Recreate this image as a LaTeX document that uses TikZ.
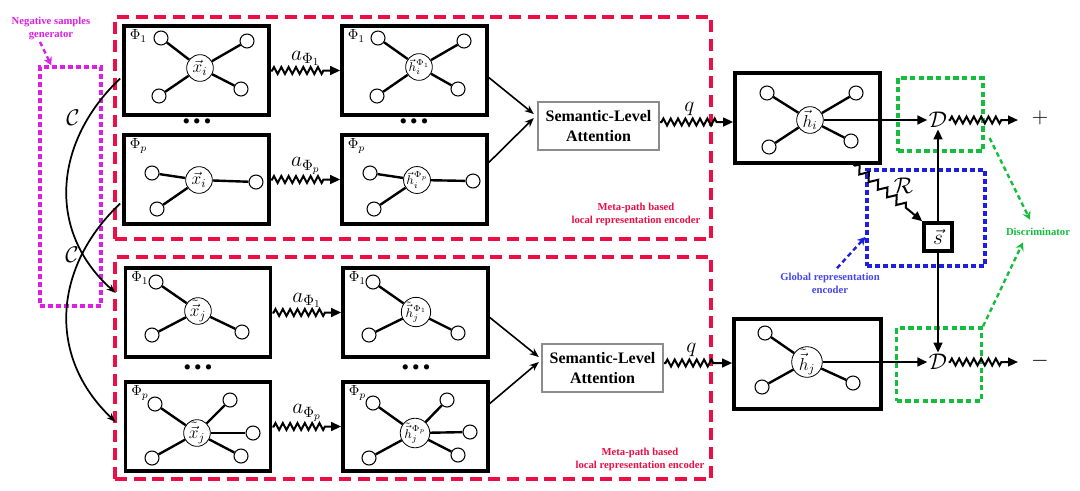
\RequirePackage{fix-cm}
\documentclass[tikz,border=0pt]{standalone}
\usepackage{amsmath}
\usepackage[no-math]{fontspec}
\newfontfamily\tnr{Liberation Serif}
\usetikzlibrary{arrows.meta,calc,decorations.pathmorphing}
\definecolor{cred}{RGB}{235,15,70}
\definecolor{cmag}{RGB}{220,30,230}
\definecolor{cgreen}{RGB}{20,190,60}
\definecolor{cblue}{RGB}{30,30,225}
\definecolor{lblue}{RGB}{70,70,235}
\tikzset{
 gbox/.style={draw, line width=2.7pt, inner sep=0pt, minimum width=108.75pt, minimum height=66.75pt},
 hub/.style={circle, draw, line width=0.6pt, fill=white, minimum size=20pt, inner sep=0pt, font=\fontsize{13}{13}\selectfont},
 hubs/.style={hub, font=\fontsize{9.5}{9.5}\selectfont},
 leaf/.style={circle, draw, line width=0.8pt, fill=white, minimum size=10.5pt, inner sep=0pt},
 edge/.style={line width=1.8pt},
 philab/.style={anchor=north west, inner sep=1pt, font=\fontsize{11}{11}\selectfont},
 zz/.style={line width=1.5pt, decorate, decoration={zigzag, segment length=5.5pt, amplitude=2.6pt, pre length=1pt, post length=12pt}, -{Triangle[length=7.5pt,width=6.5pt]}},
 zzr/.style={line width=1.5pt, decorate, decoration={zigzag, segment length=9pt, amplitude=3pt, pre length=1pt, post length=14pt}, -{Triangle[length=7.5pt,width=6.5pt]}},
 alab/.style={above=2pt, font=\fontsize{16}{16}\selectfont, inner sep=1pt},
 mlab/.style={font=\fontsize{17}{17}\selectfont, inner sep=1pt},
 sem/.style={draw=black!45, line width=1.8pt, minimum width=90.75pt, minimum height=36pt, align=center, inner sep=1pt, font=\tnr\bfseries\fontsize{12}{14.5}\selectfont},
 sarr/.style={line width=1.2pt, -{Stealth[length=7pt,width=5.5pt]}},
 arr/.style={line width=1.8pt, -{Triangle[length=7.5pt,width=6.5pt]}},
 carr/.style={line width=1.3pt, -{Stealth[length=7pt,width=5pt]}},
 redbox/.style={draw=cred, line width=2.6pt, dash pattern=on 9pt off 5pt, minimum width=447pt, minimum height=166.5pt},
 redlab/.style={text=cred, align=center, font=\tnr\bfseries\fontsize{8}{9.75}\selectfont},
 magbox/.style={draw=cmag, line width=2.6pt, dash pattern=on 3.5pt off 2.5pt, minimum width=45.75pt, minimum height=179.25pt},
 grbox/.style={draw=cgreen, line width=2.6pt, dash pattern=on 4pt off 2.5pt, minimum width=63.5pt, minimum height=54.75pt},
 blbox/.style={draw=cblue, line width=2.4pt, dash pattern=on 3.5pt off 2.5pt, minimum width=88.5pt, minimum height=72pt},
 dotsn/.style={inner sep=0pt, font=\tnr\bfseries\fontsize{24}{24}\selectfont},
 smalllab/.style={align=center, inner sep=1pt, font=\tnr\bfseries\fontsize{8}{9.75}\selectfont},
 ldash/.style={line width=1.8pt, dash pattern=on 3.5pt off 2.5pt, -{Stealth[length=6pt,width=6.5pt]}},
}
\begin{document}
\begin{tikzpicture}[x=0.75pt,y=-0.75pt]
\useasboundingbox (0,0) rectangle (1080,490);

% containers
\node[redbox] (R1) at (413,128) {};
\node[redbox] (R2) at (413,368) {};
\node[redlab] (R1lab) at (636,214.5) {Meta-path based\\local representation encoder};
\node[redlab] (R2lab) at (640,459) {Meta-path based\\local representation encoder};
\node[magbox] (M) at (70.5,186.5) {};
\node[smalllab, text=cmag] (neg) at (51,28) {Negative samples\\generator};
\draw[ldash, draw=cmag] ($(neg.south)+(-11,1)$) -- ($(M.north west)+(13,0)$);

% meta-path boxes
\node[gbox] (A1) at (196.5,70.5) {};
\node[gbox] (A2) at (196.5,179.5) {};
\node[gbox] (B1) at (414.5,70.5) {};
\node[gbox] (B2) at (414.5,179.5) {};
\node[gbox] (P1) at (198,312.5) {};
\node[gbox] (P2) at (198,426.5) {};
\node[gbox] (Q1) at (415.5,312.5) {};
\node[gbox] (Q2) at (415.5,426.5) {};
\foreach \b/\t in {A1/\Phi_1,A2/\Phi_p,B1/\Phi_1,B2/\Phi_p,P1/\Phi_1,P2/\Phi_p,Q1/\Phi_1,Q2/\Phi_p}
  \node[philab] (\b phi) at ($(\b.north west)+(6,4)$) {$\t$};

\node[dotsn] (dt1) at (197,121) {.\hspace{2pt}.\hspace{2pt}.};
\node[dotsn] (dt2) at (414,121) {.\hspace{2pt}.\hspace{2pt}.};
\node[dotsn] (dt3) at (198,367) {.\hspace{2pt}.\hspace{2pt}.};
\node[dotsn] (dt4) at (416,367) {.\hspace{2pt}.\hspace{2pt}.};

% graphs
\node[hub] (hA1) at (200,68) {$\vec{x}_i$};
\foreach \x/\y [count=\k] in {161/38,247/41,159/96,241/89}
  {\node[leaf] (hA1-\k) at (\x,\y) {}; \draw[edge] (hA1) -- (hA1-\k);}
\node[hub] (hA2) at (199,180) {$\vec{x}_i$};
\foreach \x/\y [count=\k] in {152/173,256/182,157/209}
  {\node[leaf] (hA2-\k) at (\x,\y) {}; \draw[edge] (hA2) -- (hA2-\k);}
\node[hubs] (hB1) at (419,67) {$\vec{h}_i^{\Phi_1}$};
\foreach \x/\y [count=\k] in {378/38,464/41,377/96,458/89}
  {\node[leaf] (hB1-\k) at (\x,\y) {}; \draw[edge] (hB1) -- (hB1-\k);}
\node[hubs] (hB2) at (417,180) {$\vec{h}_i^{\Phi_p}$};
\foreach \x/\y [count=\k] in {370/173,473/181,374/209}
  {\node[leaf] (hB2-\k) at (\x,\y) {}; \draw[edge] (hB2) -- (hB2-\k);}
\node[hub] (hP1) at (198,311) {$\tilde{\vec{x}}_j$};
\foreach \x/\y [count=\k] in {156/282,152/335,242/332}
  {\node[leaf] (hP1-\k) at (\x,\y) {}; \draw[edge] (hP1) -- (hP1-\k);}
\node[hub] (hP2) at (197,433) {$\tilde{\vec{x}}_j$};
\foreach \x/\y [count=\k] in {155/404,230/400,253/433,241/456,152/458}
  {\node[leaf] (hP2-\k) at (\x,\y) {}; \draw[edge] (hP2) -- (hP2-\k);}
\node[hubs] (hQ1) at (416,312) {$\tilde{\vec{h}}_j^{\Phi_1}$};
\foreach \x/\y [count=\k] in {373/282,369/335,458/333}
  {\node[leaf] (hQ1-\k) at (\x,\y) {}; \draw[edge] (hQ1) -- (hQ1-\k);}
\node[hubs] (hQ2) at (415,433) {$\tilde{\vec{h}}_j^{\Phi_p}$};
\foreach \x/\y [count=\k] in {373/403,447/400,470/432,458/455,369/458}
  {\node[leaf] (hQ2-\k) at (\x,\y) {}; \draw[edge] (hQ2) -- (hQ2-\k);}

% node-level zigzag arrows
\draw[zz] (A1.east) -- node[alab] (a1) {$a_{\Phi_1}$} (B1.west);
\draw[zz] (A2.east) -- node[alab] (a2) {$a_{\Phi_p}$} (B2.west);
\draw[zz] (P1.east) -- node[alab] (a3) {$a_{\Phi_1}$} (Q1.west);
\draw[zz] (P2.east) -- node[alab] (a4) {$a_{\Phi_p}$} (Q2.west);

% semantic attention
\node[sem] (S1) at (598.5,126) {Semantic-Level\\Attention};
\node[sem] (S2) at (602.5,368) {Semantic-Level\\Attention};
\draw[sarr] ($(B1.east)+(0,7)$) -- ($(S1.west)+(-3,-12)$);
\draw[sarr] ($(B2.east)+(0,-17)$) -- ($(S1.west)+(-3,-8)$);
\draw[sarr] ($(Q1.east)+(0,5)$) -- ($(S2.west)+(-2,-11)$);
\draw[sarr] ($(Q2.east)+(0,-23)$) -- ($(S2.west)+(-2,-6)$);

% right side
\node[gbox, minimum height=67.5pt] (C1) at (807.5,118) {};
\node[gbox, minimum width=110.25pt, minimum height=67.5pt] (C2) at (807.5,364) {};
\node[hub] (hC1) at (810,120) {$\vec{h}_i$};
\foreach \x/\y [count=\k] in {767/93,856/93,769/147,851/141}
  {\node[leaf] (hC1-\k) at (\x,\y) {}; \draw[edge] (hC1) -- (hC1-\k);}
\node[hub] (hC2) at (807,362) {$\tilde{\vec{h}}_j$};
\foreach \x/\y [count=\k] in {765/333,762/387,853/383}
  {\node[leaf] (hC2-\k) at (\x,\y) {}; \draw[edge] (hC2) -- (hC2-\k);}

\draw[zz] ($(S1.east)+(0,-4)$) -- node[alab, pos=0.4, above=1pt] (q1) {$q$} ($(C1.west)+(0,4)$);
\draw[zz] ($(S2.east)+(0,-5)$) -- node[alab, pos=0.4, above=1pt] (q2) {$q$} ($(C2.west)+(0,-1)$);

\node[grbox] (G1) at (940.5,114.5) {};
\node[grbox] (G2) at (939,364.5) {};
\node[blbox] (Bl) at (926,218) {};

\node[mlab] (Dt) at (938,120) {$\mathcal{D}$};
\node[mlab] (Db) at (938,362) {$\mathcal{D}$};
\node[mlab] (plus) at (1040,118) {$+$};
\node[mlab] (minus) at (1040,361) {$-$};
\coordinate (p1) at (1018,120);
\coordinate (p2) at (1018,362);
\draw[arr] (hC1) -- (Dt);
\draw[arr] (hC2) -- (Db);
\draw[zz] (Dt.east) -- (p1);
\draw[zz] (Db.east) -- (p2);

\node[draw, line width=2.6pt, minimum size=21pt, inner sep=0pt, fill=white, font=\fontsize{16}{16}\selectfont] (s) at (938,237) {$\vec{s}$};
\draw[arr] (s) -- (Dt);
\draw[arr] (s) -- (Db);
\draw[zzr] ($(C1.south east)+(-28,0)$) -- node[mlab, pos=0.55, above right=0pt] (Rl) {$\mathcal{R}$} (s.north west);

% labels with dashed pointers
\node[smalllab, text=cgreen] (disc) at (1038,232) {Discriminator};
\draw[ldash, draw=cgreen] ($(G1.east)+(5,23.5)$) -- ($(disc.north)+(-8,-7)$);
\draw[ldash, draw=cgreen] (G2.north east) -- ($(disc.south)+(-15,5)$);
\node[smalllab, text=lblue] (glob) at (830,283) {Global representation\\encoder};
\draw[ldash, draw=cblue] ($(glob.north)+(7,-3)$) -- ($(Bl.west)+(0,19)$);

% corruption curves
\draw[carr] ($(A1.west)+(-2,8)$) .. controls (55,140) and (45,230) .. ($(P1.west)+(-8,-19.5)$);
\draw[carr] ($(A2.west)+(-2,24)$) .. controls (55,265) and (45,355) .. ($(P2.west)+(-8,-4.5)$);
\node[mlab] (c1) at (73,118) {$\mathcal{C}$};
\node[mlab] (c2) at (72,255) {$\mathcal{C}$};
\end{tikzpicture}
\end{document}
